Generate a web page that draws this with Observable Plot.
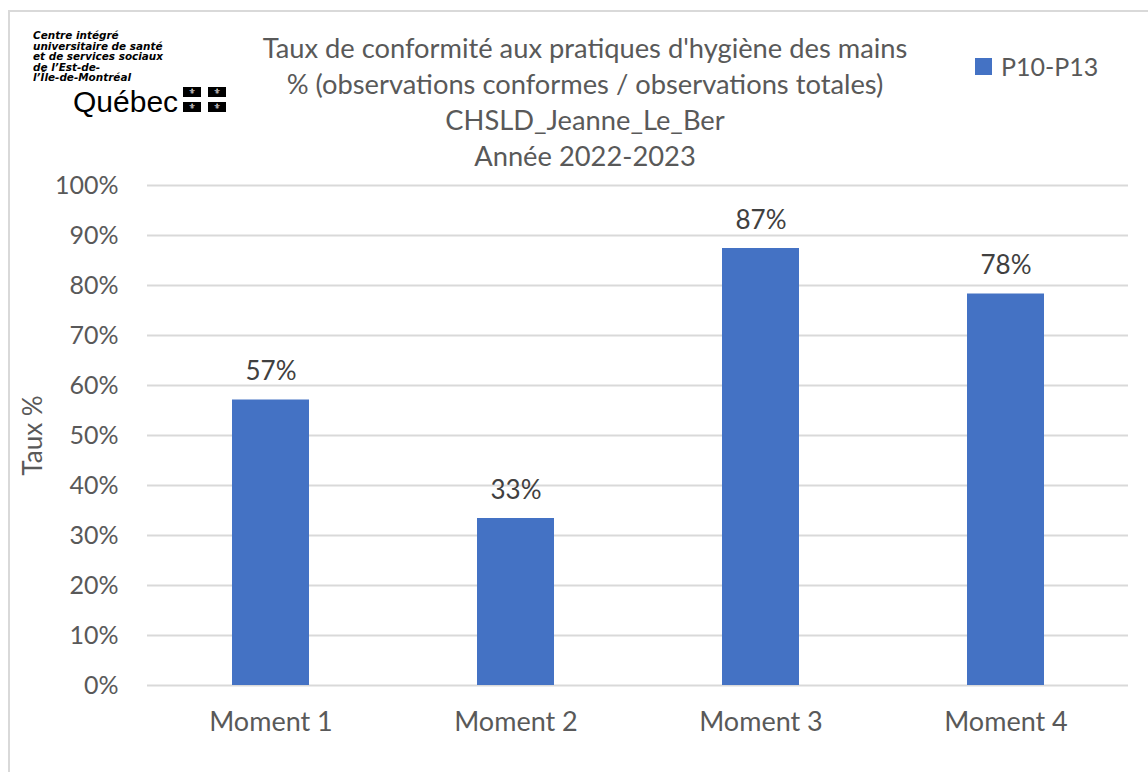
<!DOCTYPE html>
<html>
<head>
<meta charset="utf-8">
<script src="https://cdn.jsdelivr.net/npm/d3@7"></script>
<script src="https://cdn.jsdelivr.net/npm/@observablehq/plot@0.6"></script>
<style>
  html, body { margin: 0; padding: 0; background: #fff; }
  #page { position: relative; width: 1148px; height: 772px; overflow: hidden; background: #fff; font-family: Lato, "Open Sans", sans-serif; }
  #frame { position: absolute; left: 8px; top: 10px; width: 1160px; height: 800px; border: 2px solid #d9d9d9; box-sizing: border-box; }
  #title { position: absolute; left: 235px; width: 700px; top: 30px; text-align: center; color: #595959; font-size: 27.3px; line-height: 36px; white-space: nowrap; }
  #legend { position: absolute; left: 975px; top: 51px; color: #595959; font-size: 25px; line-height: 30px; display: flex; align-items: center; white-space: nowrap; }
  #legend .sw { width: 17px; height: 17px; background: #4472c4; margin-right: 9px; }
  #logo { position: absolute; left: 33px; top: 31px; }
  #logo .org { display: inline-block; transform-origin: 0 0; font-family: "DejaVu Sans", "Liberation Sans", sans-serif; font-weight: bold; font-style: italic; font-size: 10px; line-height: 10.5px; color: #000; white-space: nowrap; }
  #logo .qc { position: absolute; left: 40px; top: 56px; font-family: "Liberation Sans", Arial, sans-serif; font-size: 30px; line-height: 30px; color: #000; white-space: nowrap; }
  #logo .flag { position: absolute; left: 150px; top: 56px; width: 45px; height: 25px; display: grid; grid-template-columns: 18px 18px; grid-template-rows: 10px 10px; column-gap: 7px; row-gap: 5px; }
  #logo .flag span { background: #000; color: #fff; font-family: "DejaVu Sans", sans-serif; font-size: 8px; line-height: 10px; text-align: center; display: block; }
  #chart { position: absolute; left: 0; top: 170px; }
</style>
</head>
<body>
<div id="page">
  <div id="frame"></div>
  <div id="logo">
    <div class="org" id="org"></div>
    <div class="qc" id="qc"></div>
    <div class="flag"><span>⚜</span><span>⚜</span><span>⚜</span><span>⚜</span></div>
  </div>
  <div id="title"></div>
  <div id="legend"><div class="sw"></div><div id="legendText"></div></div>
  <div id="chart"></div>
</div>
<script>
// ---- Data ----
const logoLines = ["Centre intégré", "universitaire de santé", "et de services sociaux", "de l’Est-de-", "l’Île-de-Montréal"];
const logoWord = "Québec";
const titleLines = [
  "Taux de conformité aux pratiques d'hygiène des mains",
  "% (observations conformes / observations totales)",
  "CHSLD_Jeanne_Le_Ber",
  "Année 2022-2023"
];
const seriesName = "P10-P13";
const categories = ["Moment 1", "Moment 2", "Moment 3", "Moment 4"];
const values = [0.571, 0.334, 0.874, 0.783];
const valueLabels = ["57%", "33%", "87%", "78%"];
const yTicks = [0, 0.1, 0.2, 0.3, 0.4, 0.5, 0.6, 0.7, 0.8, 0.9, 1.0];
const yTickLabels = ["0%", "10%", "20%", "30%", "40%", "50%", "60%", "70%", "80%", "90%", "100%"];
const yAxisLabel = "Taux %";

const org = document.getElementById("org");
org.innerHTML = logoLines.map(t => `<div>${t}</div>`).join("");
document.getElementById("qc").textContent = logoWord;
// fit the logo text block to its width in the reference
const orgW = org.getBoundingClientRect().width;
if (orgW > 0) org.style.transform = `scaleX(${130 / orgW})`;

document.getElementById("title").innerHTML = titleLines.map(t => `<div>${t}</div>`).join("");
document.getElementById("legendText").textContent = seriesName;

const data = categories.map((c, i) => ({category: c, value: values[i], label: valueLabels[i]}));
const fmt = d => yTickLabels[yTicks.findIndex(t => Math.abs(t - d) < 1e-9)];

const chart = Plot.plot({
  width: 1148,
  height: 602,
  marginTop: 15,
  marginBottom: 87,
  marginLeft: 147,
  marginRight: 20,
  style: {fontFamily: "Lato, 'Open Sans', sans-serif", fontSize: "25px", color: "#595959", background: "transparent"},
  x: {domain: categories, paddingInner: 0.686, paddingOuter: 0.343, label: null},
  y: {domain: [0, 1], label: null},
  marks: [
    Plot.gridY(yTicks, {stroke: "#d9d9d9", strokeOpacity: 1, strokeWidth: 2}),
    Plot.axisY(yTicks, {tickSize: 0, tickPadding: 29, tickFormat: fmt, fontSize: 25, fill: "#595959", label: null}),
    Plot.axisX({tickSize: 0, tickPadding: 26, fontSize: 27, fill: "#595959", label: null}),
    Plot.barY(data, {x: "category", y: "value", fill: "#4472c4"}),
    Plot.text(data, {x: "category", y: "value", text: "label", dy: -28, fill: "#404040", fontSize: 26}),
    Plot.text([yAxisLabel], {frameAnchor: "left", textAnchor: "middle", dx: -114, rotate: -90, fill: "#595959", fontSize: 26})
  ]
});
document.getElementById("chart").appendChild(chart);
</script>
</body>
</html>
